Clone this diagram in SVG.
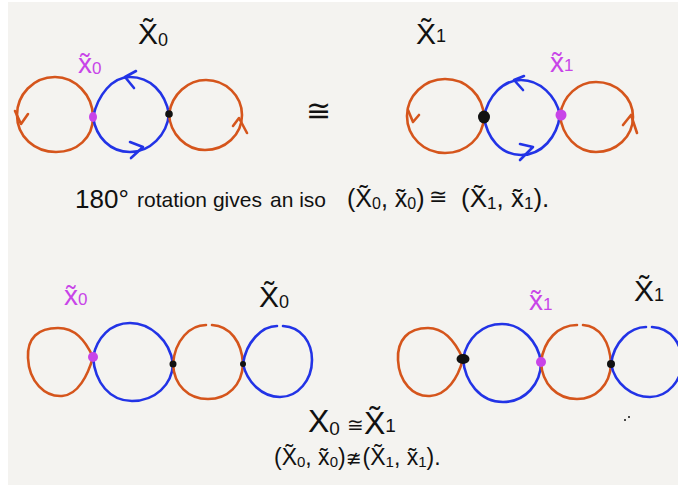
<svg xmlns="http://www.w3.org/2000/svg" width="678" height="487" viewBox="0 0 678 487">
<style>
.or{fill:none;stroke:#d5551c;stroke-width:2.6;stroke-linecap:round;stroke-linejoin:round}
.bl{fill:none;stroke:#2233e6;stroke-width:2.6;stroke-linecap:round;stroke-linejoin:round}
.mg{fill:#c844e8}
.bk{fill:#111}
.t{font-family:"Liberation Sans","DejaVu Sans",sans-serif;fill:#111}
.m{font-family:"DejaVu Sans","Liberation Sans",sans-serif;fill:#111}
.tm{font-family:"Liberation Sans","DejaVu Sans",sans-serif;fill:#c844e8}
</style>
<rect x="0" y="0" width="678" height="487" fill="#ffffff"/>
<rect x="8" y="2" width="670" height="483" fill="#f4f3f0"/>

<g id="connectors">
  <!-- top left -->
  <path class="or" d="M93,117 C93,95 75,77 55,77 C33,77 17,95 17,115 C17,137 35,152 56,152 C77,152 93,138 93,117 Z"/>
  <path class="bl" d="M93,117 C98,95 112,77 130,77 C150,77 165,92 169,114 C167,135 150,152 130,152 C110,152 96,137 93,117 Z"/>
  <path class="or" d="M169,114 C172,94 188,80 206,80 C226,80 242,96 242,115 C242,135 225,150 205,150 C186,150 170,134 169,114 Z"/>
  <polyline class="or" points="15,111 21,124 28,114"/>
  <polyline class="bl" points="136,71 125,77 134,88"/>
  <polyline class="bl" points="130,142 143,147 131,158"/>
  <polyline class="or" points="233,126 239,118 247,133"/>
  <!-- top right -->
  <path class="or" d="M484,117 C483,95 466,79 445,79 C424,79 407,96 407,116 C407,137 424,153 445,153 C466,153 483,138 484,117 Z"/>
  <path class="bl" d="M484,117 C488,96 503,80 521,80 C540,80 556,96 560,115 C557,137 542,155 521,155 C501,155 487,138 484,117 Z"/>
  <path class="or" d="M560,115 C563,96 578,82 596,82 C616,82 633,97 633,117 C633,137 616,152 596,152 C577,152 562,136 560,115 Z"/>
  <polyline class="or" points="408,110 413,122 419,115"/>
  <polyline class="bl" points="524,76 514,80 523,90"/>
  <polyline class="bl" points="520,144 533,147 520,160"/>
  <polyline class="or" points="623,125 631,115 637,133"/>
  <!-- bottom left -->
  <path class="or" d="M93,357 C85,340 75,328 58,328 C38,328 27,338 28,358 C29,382 45,397 62,396 C78,395 88,375 93,357 Z"/>
  <path class="bl" d="M93,357 C97,338 110,323 130,323 C150,323 170,340 173,364 C172,385 155,401 132,401 C110,401 95,383 93,357 Z"/>
  <path class="or" d="M212,325 C230,326 242,342 243,364 C242,385 228,399 208,399 C188,399 174,385 173,364 C175,340 190,325 206,325"/>
  <path class="bl" d="M283,326 C302,327 312,343 312,360 C312,380 298,397 280,397 C262,397 247,382 243,364 C246,342 262,326 277,326"/>
  <!-- bottom right -->
  <path class="or" d="M463,359 C455,341 443,328 428,328 C408,328 397,340 398,360 C399,382 413,397 430,396 C447,395 458,378 463,359 Z"/>
  <path class="bl" d="M463,359 C467,338 482,324 502,324 C522,324 538,342 541,362 C541,384 525,402 503,402 C480,402 465,382 463,359 Z"/>
  <path class="or" d="M583,325 C600,326 610,342 611,364 C610,385 596,399 577,399 C557,399 542,384 541,362 C544,340 558,325 577,325"/>
  <path class="bl" d="M652,327 C672,328 682,345 682,362 C682,380 668,397 650,397 C632,397 615,384 611,364 C614,342 630,327 646,327"/>
</g>

<g id="node-top-x0">
  <ellipse class="mg" cx="93" cy="117" rx="4" ry="5"/>
  <text class="tm" x="78" y="73" font-size="28">x̃<tspan font-size="17" dy="1">0</tspan></text>
</g>
<g id="node-top-left-black"><circle class="bk" cx="169" cy="114" r="3.8"/></g>
<g id="node-top-right-black"><ellipse class="bk" cx="484" cy="117" rx="6" ry="6.5"/></g>
<g id="node-top-x1">
  <circle class="mg" cx="561" cy="115" r="5.5"/>
  <text class="tm" x="550" y="72" font-size="28">x̃<tspan font-size="17" dy="-1">1</tspan></text>
</g>
<g id="label-top-X0"><text class="t" x="138" y="44" font-size="30">X̃<tspan font-size="18" dy="2">0</tspan></text></g>
<g id="label-top-X1"><text class="t" x="416" y="44" font-size="30">X̃<tspan font-size="18" dy="-2">1</tspan></text></g>
<g id="label-top-iso"><text class="m" x="306" y="121" font-size="30">≅</text></g>

<g id="caption-top">
  <text class="t" x="75" y="208" font-size="26">180°</text>
  <text class="t" x="137" y="207" font-size="21">rotation gives</text>
  <text class="t" x="270" y="207" font-size="21">an iso</text>
  <text class="t" x="347" y="207" font-size="25">(X̃<tspan font-size="16" dy="2">0</tspan><tspan dy="-2">, x̃</tspan><tspan font-size="16" dy="2">0</tspan><tspan dy="-2">)</tspan></text>
  <text class="m" x="429" y="204" font-size="22">≅</text>
  <text class="t" x="461" y="207" font-size="26">(X̃<tspan font-size="17" dy="2">1</tspan><tspan dy="-2">, x̃</tspan><tspan font-size="17" dy="2">1</tspan><tspan dy="-2">).</tspan></text>
</g>

<g id="node-bottom-left-x0">
  <circle class="mg" cx="93" cy="357" r="5"/>
  <text class="tm" x="64" y="305" font-size="28">x̃<tspan font-size="17" dy="0">0</tspan></text>
</g>
<g id="node-bl-black1"><circle class="bk" cx="173" cy="364" r="3.5"/></g>
<g id="node-bl-black2"><circle class="bk" cx="243" cy="364" r="3"/></g>
<g id="label-bottom-X0"><text class="t" x="259" y="307" font-size="30">X̃<tspan font-size="18" dy="1">0</tspan></text></g>

<g id="node-br-black1"><ellipse class="bk" cx="463" cy="359" rx="6.5" ry="5"/></g>
<g id="node-bottom-right-x1">
  <circle class="mg" cx="541" cy="362" r="5"/>
  <text class="tm" x="529" y="310" font-size="28">x̃<tspan font-size="17" dy="0">1</tspan></text>
</g>
<g id="node-br-black2"><circle class="bk" cx="611" cy="364" r="4"/></g>
<g id="label-bottom-X1"><text class="t" x="634" y="301" font-size="30">X̃<tspan font-size="18" dy="0">1</tspan></text></g>
<g id="marks"><circle class="bk" cx="625" cy="420" r="1"/><circle class="bk" cx="629" cy="417" r="1"/></g>

<g id="caption-bottom">
  <text class="t" x="308" y="432" font-size="32">X<tspan font-size="19" dy="3">0</tspan></text>
  <text class="m" x="347" y="432" font-size="20">≅</text>
  <text class="t" x="364" y="434" font-size="32">X̃<tspan font-size="19" dy="-2">1</tspan></text>
  <text class="t" x="274" y="465" font-size="23">(X̃<tspan font-size="15" dy="2">0</tspan><tspan dy="-2">, x̃</tspan><tspan font-size="15" dy="2">0</tspan><tspan dy="-2">)</tspan><tspan class="m" font-size="19">≇</tspan><tspan dx="1">(X̃</tspan><tspan font-size="15" dy="2">1</tspan><tspan dy="-2">, x̃</tspan><tspan font-size="15" dy="2">1</tspan><tspan dy="-2">).</tspan></text>
</g>
</svg>
